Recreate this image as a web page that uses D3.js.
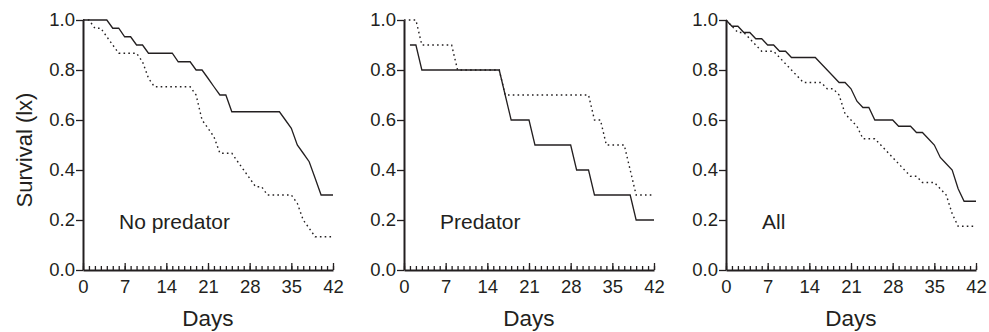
<!DOCTYPE html>
<html>
  <head>
    <meta charset="utf-8">
    <title>Survival</title>
    <style>
      body { margin: 0; background: #fff; }
      text { font-family: "Liberation Sans", Arial, sans-serif; fill: #231f20; }
    </style>
  </head>
  <body>
    <svg id="chart" width="989" height="332"></svg>
    <script src="https://d3js.org/d3.v7.min.js"></script>
    <script>
      // day index shared by every series
      const days = [0, 1, 2, 3, 4, 5, 6, 7, 8, 9, 10, 11, 12, 13, 14, 15, 16, 17, 18, 19, 20,
        21, 22, 23, 24, 25, 26, 27, 28, 29, 30, 31, 32, 33, 34, 35, 36, 37, 38, 39, 40, 41, 42]
      const panelNames = ['No predator', 'Predator', 'All']
      const xTicks = [0, 7, 14, 21, 28, 35, 42]
      const yTicks = [0, 0.2, 0.4, 0.6, 0.8, 1.0]

      // solid lines
      const noPredSolid = [1, 1, 1, 1, 1, .967, .967, .933, .933, .9, .9, .867, .867, .867, .867, .867,
        .833, .833, .833, .8, .8, .767, .733, .7, .7, .633, .633, .633, .633, .633, .633, .633, .633, .633,
        .6, .567, .5, .467, .433, .367, .3, .3, .3]
      const predSolid = [null, .9, .9, .8, .8, .8, .8, .8, .8, .8, .8, .8, .8, .8, .8, .8, .8, .7,
        .6, .6, .6, .6, .5, .5, .5, .5, .5, .5, .5, .4, .4, .4, .3, .3, .3, .3, .3, .3, .3, .2, .2, .2, .2]
      const allSolid = [1, .975, .975, .95, .95, .925, .925, .9, .9, .875, .875, .85, .85, .85, .85, .85,
        .825, .8, .775, .75, .75, .725, .675, .65, .65, .6, .6, .6, .6, .575, .575, .575, .55, .55,
        .525, .5, .45, .425, .4, .325, .275, .275, .275]

      // dotted lines
      const noPredDotted = [1, 1, .967, .967, .933, .9, .867, .867, .867, .867, .833, .767, .733,
        .733, .733, .733, .733, .733, .733, .7, .6, .567, .533, .467, .467, .467, .433, .4, .367, .333,
        .333, .3, .3, .3, .3, .3, .267, .2, .167, .133, .133, .133, .133]
      const predDotted = [1, 1, 1, .9, .9, .9, .9, .9, .9, .8, .8, .8, .8, .8, .8, .8, .8, .7, .7, .7,
        .7, .7, .7, .7, .7, .7, .7, .7, .7, .7, .7, .7, .6, .6, .5, .5, .5, .5, .4, .3, .3, .3, .3]
      const allDotted = [1, .975, .95, .95, .925, .9, .875, .875, .875, .85, .825, .8, .775, .75, .75,
        .75, .75, .725, .725, .7, .625, .6, .575, .525, .525, .525, .5, .475, .45, .425, .4, .375, .375,
        .35, .35, .35, .325, .3, .225, .175, .175, .175, .175]

      const solidSeries = [noPredSolid, predSolid, allSolid]
      const dottedSeries = [noPredDotted, predDotted, allDotted]

      const panelLeft = [83, 404, 726]
      const panelWidth = 250
      const plotTop = 20
      const plotBottom = 270
      const ink = '#231f20'

      const svg = d3.select('#chart')

      const yScale = d3.scaleLinear()
        .domain([0, 1])
        .range([plotBottom, plotTop])

      panelNames.forEach((name, i) => {
        const x0 = panelLeft[i]
        const xScale = d3.scaleLinear()
          .domain([0, 42])
          .range([x0, x0 + panelWidth])

        const g = svg.append('g').attr('class', 'panel')

        // minor ticks every day, pointing up into the plot
        g.append('g')
          .attr('transform', `translate(0,${plotBottom})`)
          .call(d3.axisBottom(xScale).tickValues(days).tickSize(-4).tickSizeOuter(0).tickFormat(''))
          .call(a => a.select('.domain').remove())

        // major ticks every week with labels
        g.append('g')
          .attr('class', 'x-axis')
          .attr('transform', `translate(0,${plotBottom})`)
          .call(d3.axisBottom(xScale).tickValues(xTicks).tickSize(-7).tickSizeOuter(0).tickPadding(10))

        g.append('g')
          .attr('class', 'y-axis')
          .attr('transform', `translate(${x0},0)`)
          .call(d3.axisLeft(yScale).tickValues(yTicks).tickFormat(d3.format('.1f'))
            .tickSize(7).tickSizeOuter(0).tickPadding(1))

        g.selectAll('.domain').attr('stroke', ink).attr('stroke-width', 2)
        g.selectAll('.tick line').attr('stroke', ink).attr('stroke-width', 1.3)
        g.selectAll('.tick text').attr('fill', ink).style('font-size', '18.5px')

        const line = d3.line()
          .defined(d => d[1] !== null)
          .x(d => xScale(d[0]))
          .y(d => yScale(d[1]))

        g.append('path')
          .datum(days.map((d, j) => [d, dottedSeries[i][j]]))
          .attr('fill', 'none')
          .attr('stroke', ink)
          .attr('stroke-width', 1.4)
          .attr('stroke-dasharray', '1.6,3.2')
          .attr('d', line)

        g.append('path')
          .datum(days.map((d, j) => [d, solidSeries[i][j]]))
          .attr('fill', 'none')
          .attr('stroke', ink)
          .attr('stroke-width', 1.3)
          .attr('d', line)

        g.append('text')
          .attr('x', x0 + 36)
          .attr('y', 229)
          .style('font-size', '21px')
          .text(name)

        g.append('text')
          .attr('x', x0 + panelWidth / 2)
          .attr('y', 326)
          .attr('text-anchor', 'middle')
          .style('font-size', '22.5px')
          .text('Days')
      })

      svg.append('text')
        .attr('transform', 'translate(32,150) rotate(-90)')
        .attr('text-anchor', 'middle')
        .style('font-size', '22px')
        .text('Survival (lx)')
    </script>
  </body>
</html>
